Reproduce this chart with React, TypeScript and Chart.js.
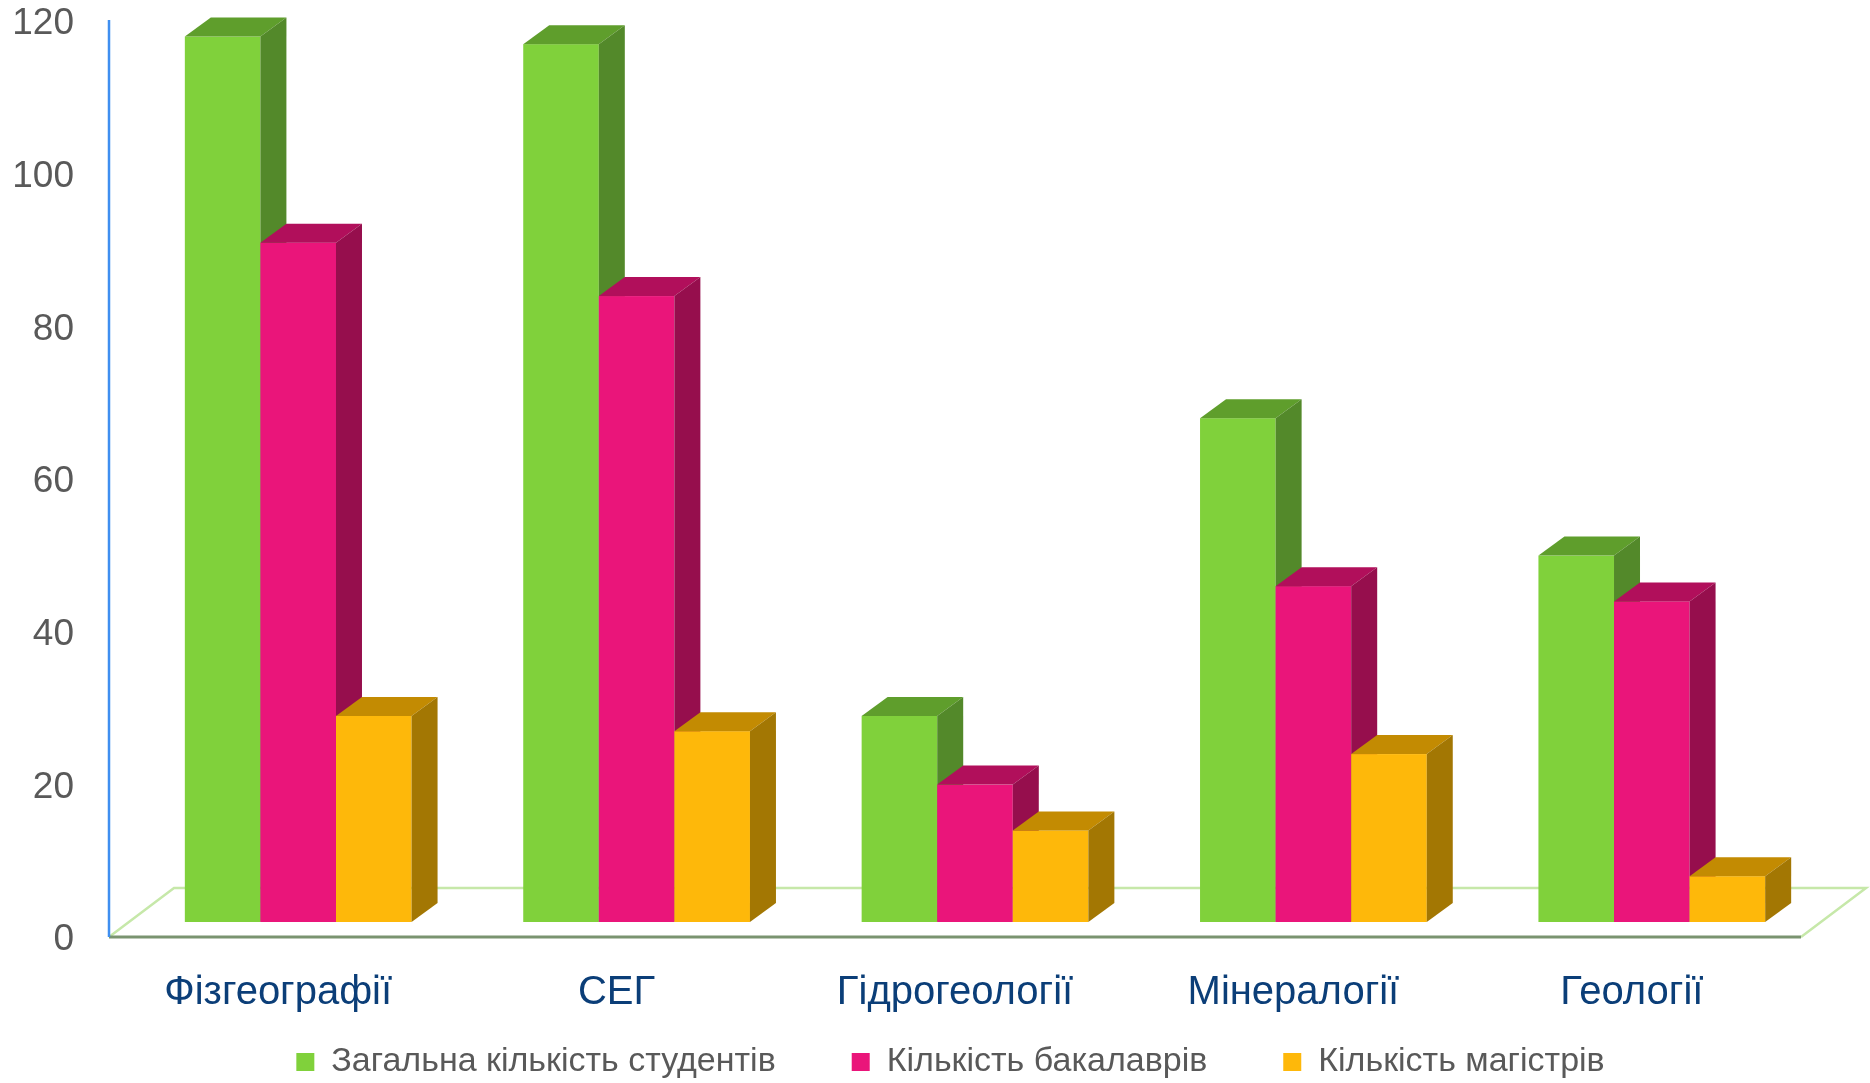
import React, { useEffect, useRef } from 'react';
import { Chart, registerables } from 'chart.js';

Chart.register(...registerables);

const categories = ['Фізгеографії', 'СЕГ', 'Гідрогеології', 'Мінералогії', 'Геології'];
const totalStudents = [116, 115, 27, 66, 48];
const bachelors = [89, 82, 18, 44, 42];
const masters = [27, 25, 12, 22, 6];
const seriesNames = ['Загальна кількість студентів', 'Кількість бакалаврів', 'Кількість магістрів'];
const yTicks = [0, 20, 40, 60, 80, 100, 120];

const FRONT = ['#80d13b', '#ea157a', '#feb80a'];
const TOP = ['#5f9e2c', '#b10f5b', '#c38b02'];
const SIDE = ['#53892a', '#960e4d', '#a37703'];

const FONT = 'Liberation Sans, Arial, sans-serif';

const bars3d = {
  id: 'bars3d',
  afterLayout(chart: any) {
    const lg = chart.legend;
    if (lg) {
      lg.top = chart.height - 114;
      lg.bottom = chart.height;
      lg.height = lg.bottom - lg.top;
      lg.left += 50;
      lg.right += 50;
    }
  },
  beforeDatasetsDraw(chart: any) {
    const ctx = chart.ctx;
    const area = chart.chartArea;
    const fx = 65, fy = -49; // floor depth
    const ox = 20, oy = -15; // bar front plane offset
    const dx = 26, dy = -19; // bar depth
    ctx.save();
    // floor back & sides
    ctx.strokeStyle = '#c6e8a9';
    ctx.lineWidth = 2.5;
    ctx.beginPath();
    ctx.moveTo(area.left, area.bottom);
    ctx.lineTo(area.left + fx, area.bottom + fy);
    ctx.lineTo(area.right + fx, area.bottom + fy);
    ctx.lineTo(area.right, area.bottom);
    ctx.stroke();
    // front edge
    ctx.strokeStyle = '#7a9470';
    ctx.lineWidth = 3;
    ctx.beginPath();
    ctx.moveTo(area.left, area.bottom);
    ctx.lineTo(area.right, area.bottom);
    ctx.stroke();
    // vertical axis
    ctx.strokeStyle = '#3f8ff0';
    ctx.lineWidth = 2.5;
    ctx.beginPath();
    ctx.moveTo(area.left, area.top - 1);
    ctx.lineTo(area.left, area.bottom);
    ctx.stroke();

    const n = chart.data.labels.length;
    for (let i = 0; i < n; i++) {
      chart.data.datasets.forEach((ds: any, d: number) => {
        const meta = chart.getDatasetMeta(d);
        const el = meta.data[i];
        if (!el) return;
        const { x, y, base, width } = el.getProps(['x', 'y', 'base', 'width'], true);
        const l = x - width / 2 + ox;
        const r = x + width / 2 + ox;
        const t = y + oy;
        const b = base + oy;
        // front
        ctx.fillStyle = FRONT[d];
        ctx.fillRect(l, t, r - l, b - t);
        // top
        ctx.fillStyle = TOP[d];
        ctx.beginPath();
        ctx.moveTo(l, t);
        ctx.lineTo(r, t);
        ctx.lineTo(r + dx, t + dy);
        ctx.lineTo(l + dx, t + dy);
        ctx.closePath();
        ctx.fill();
        // side
        ctx.fillStyle = SIDE[d];
        ctx.beginPath();
        ctx.moveTo(r, t);
        ctx.lineTo(r + dx, t + dy);
        ctx.lineTo(r + dx, b + dy);
        ctx.lineTo(r, b);
        ctx.closePath();
        ctx.fill();
      });
    }
    ctx.restore();
    return false;
  },
};

export default function App() {
  const ref = useRef<HTMLCanvasElement | null>(null);

  useEffect(() => {
    if (!ref.current) return;
    const seriesValues = [totalStudents, bachelors, masters];
    const chart = new Chart(ref.current, {
      type: 'bar',
      data: {
        labels: categories,
        datasets: seriesValues.map((vals, i) => ({
          label: seriesNames[i],
          data: vals,
          backgroundColor: FRONT[i],
          borderWidth: 0,
          categoryPercentage: 0.67,
          barPercentage: 1,
        })),
      },
      options: {
        responsive: false,
        animation: false,
        devicePixelRatio: 1,
        layout: { padding: { left: 0, right: 69, top: 21, bottom: 0 } },
        plugins: {
          legend: {
            position: 'bottom',
            maxHeight: 70,
            labels: {
              color: '#595959',
              font: { family: FONT, size: 34 },
              boxWidth: 18,
              boxHeight: 18,
              padding: 76,
            },
          },
          tooltip: { enabled: false },
        },
        scales: {
          x: {
            grid: { display: false, drawTicks: false },
            border: { display: false },
            ticks: {
              color: '#0b3e78',
              font: { family: FONT, size: 40 },
              padding: 32,
              maxRotation: 0,
              minRotation: 0,
              autoSkip: false,
            },
            afterFit: (s: any) => {
              s.height = 76;
              s.paddingLeft = 0;
              s.paddingRight = 0;
            },
          },
          y: {
            min: 0,
            max: 120,
            grid: { display: false, drawTicks: false },
            border: { display: false },
            ticks: {
              color: '#595959',
              font: { family: FONT, size: 37 },
              padding: 35,
              labelOffset: 3,
            },
            afterBuildTicks: (s: any) => {
              s.ticks = yTicks.map((v) => ({ value: v }));
            },
            afterFit: (s: any) => {
              s.width = 109;
              s.paddingTop = 0;
              s.paddingBottom = 0;
            },
          },
        },
      } as any,
      plugins: [bars3d as any],
    });
    return () => chart.destroy();
  }, []);

  return (
    <div style={{ position: 'absolute', left: 0, top: 0, width: 1870, height: 1083, background: '#fff' }}>
      <canvas ref={ref} width={1870} height={1083} style={{ display: 'block', width: 1870, height: 1083 }} />
    </div>
  );
}
